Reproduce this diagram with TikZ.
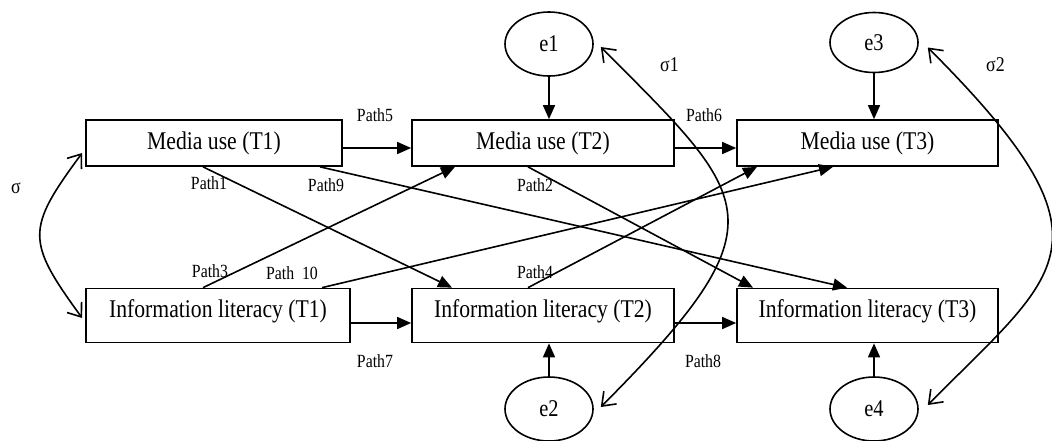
\documentclass[tikz,border=0pt]{standalone}
\usepackage{fontspec}
\setmainfont{Liberation Serif}[FakeStretch=0.85]
\usetikzlibrary{arrows.meta,shapes.geometric}
\begin{document}
\begin{tikzpicture}[x=1pt,y=-1pt,
  box/.style={draw, line width=1.7pt, inner sep=0pt, minimum height=46pt,
    font=\fontsize{25.5}{28}\selectfont},
  ibox/.style={box, minimum height=54pt, text depth=13.5pt},
  err/.style={draw, ellipse, line width=1.6pt, minimum width=88pt,
    minimum height=64pt, inner sep=0pt, font=\fontsize{24}{26}\selectfont},
  lbl/.style={inner sep=0pt, font=\fontsize{18.6}{20}\selectfont},
  sig/.style={inner sep=0pt, font=\fontsize{21}{23}\selectfont},
  reg/.style={line width=1.6pt, -{Triangle[length=14pt,width=12pt]}},
  cov/.style={line width=1.6pt,
    {Straight Barb[length=12pt,width=18pt]}-{Straight Barb[length=12pt,width=18pt]}}
]
\useasboundingbox (0,0) rectangle (1052,440);

% observed variables
\node[box, minimum width=256pt] (m1) at (214,143) {Media use (T1)};
\node[box, minimum width=262pt] (m2) at (543,143) {Media use (T2)};
\node[box, minimum width=261pt] (m3) at (867.5,143) {Media use (T3)};
\node[ibox, minimum width=264pt] (i1) at (218,315.5) {Information literacy (T1)};
\node[ibox, minimum width=262pt] (i2) at (543,315.5) {Information literacy (T2)};
\node[ibox, minimum width=261pt] (i3) at (867.5,315.5) {Information literacy (T3)};

% residuals
\node[err] (e1) at (549,44) {e1};
\node[err, minimum height=60pt] (e3) at (874,42.5) {e3};
\node[err] (e2) at (549,409) {e2};
\node[err] (e4) at (874,409) {e4};

\draw[reg] (e1) -- (e1 |- m2.north);
\draw[reg] (e3) -- (e3 |- m3.north);
\draw[reg] (e2) -- (e2 |- i2.south);
\draw[reg] (e4) -- (e4 |- i3.south);

% autoregressive paths
\draw[reg] ([yshift=-5pt]m1.east) -- ([yshift=-5pt]m2.west);
\draw[reg] ([yshift=-5pt]m2.east) -- ([yshift=-5pt]m3.west);
\draw[reg] ([yshift=-7.5pt]i1.east) -- ([yshift=-7.5pt]i2.west);
\draw[reg] ([yshift=-7.5pt]i2.east) -- ([yshift=-7.5pt]i3.west);

% cross-lagged paths
\draw[reg] ([xshift=-11pt]m1.south) -- ([xshift=-91pt]i2.north);
\draw[reg] ([xshift=106pt]m1.south) -- ([xshift=-20.5pt]i3.north);
\draw[reg] ([xshift=-15pt]i1.north) -- ([xshift=-88pt]m2.south);
\draw[reg] ([xshift=104pt]i1.north) -- ([xshift=-34.5pt]m3.south);
\draw[reg] ([xshift=-15pt]m2.south) -- ([xshift=-114.5pt]i3.north);
\draw[reg] ([xshift=-15pt]i2.north) -- ([xshift=-110.5pt]m3.south);

% path labels
\node[lbl] (p5) at (375,115) {Path5};
\node[lbl] (p6) at (704,115) {Path6};
\node[lbl] (p1) at (209,183) {Path1};
\node[lbl] (p9) at (326,185) {Path9};
\node[lbl] (p3) at (210,271) {Path3};
\node[lbl] (p10) at (292,273) {Path~~10};
\node[lbl] (p2) at (535,185) {Path2};
\node[lbl] (p4) at (535,272) {Path4};
\node[lbl] (p7) at (375,361) {Path7};
\node[lbl] (p8) at (703,361) {Path8};

% covariances
\draw[cov] ([shift={(-3,10)}]m1.west) .. controls (26,229) and (26,241) .. ([shift={(-3,2.5)}]i1.west);
\draw[cov] ([shift={(7,3)}]e1.east) .. controls (753,200) and (786,221) .. ([shift={(7,-2)}]e2.east);
\draw[cov] ([shift={(9,5)}]e3.east) .. controls (1124,244) and (1060,271) .. ([shift={(9,-4)}]e4.east);

\node[sig] (s0) at (16,188) {σ};
\node[sig] (s1) at (669.5,64.5) {σ1};
\node[sig] (s2) at (995.5,64.5) {σ2};
\end{tikzpicture}
\end{document}
